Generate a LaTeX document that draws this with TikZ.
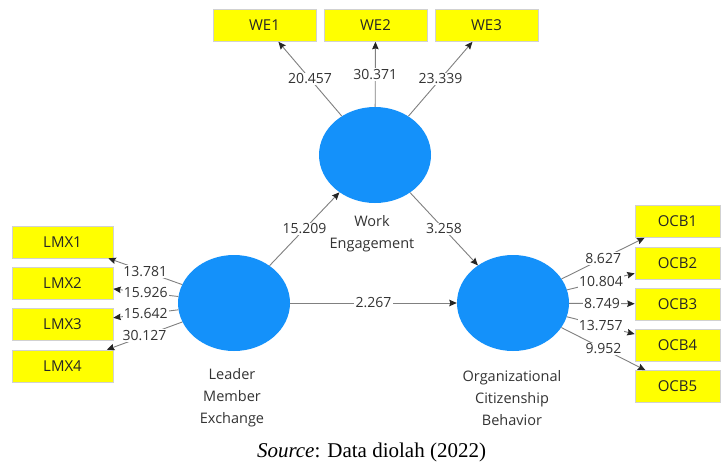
\documentclass[tikz,border=0pt]{standalone}
\usepackage{fontspec}
\setmainfont{Open Sans}
\newfontfamily\capfont{Liberation Serif}
\usetikzlibrary{shapes.geometric,arrows.meta}
\definecolor{lvblue}{RGB}{20,145,250}
\definecolor{mvyellow}{RGB}{255,255,0}
\definecolor{linkgray}{RGB}{128,128,128}
\tikzset{
  latent/.style={ellipse,fill=lvblue,draw=none,minimum width=112pt,minimum height=96pt,inner sep=0pt},
  indicator/.style={rectangle,fill=mvyellow,draw=black!18,line width=0.6pt,minimum height=32pt,inner sep=0pt,text=black!85,font=\fontsize{15}{17}\selectfont},
  webox/.style={indicator,minimum width=103pt},
  lmxbox/.style={indicator,minimum width=101pt},
  ocbbox/.style={indicator,minimum width=85pt},
  link/.style={draw=linkgray,line width=0.9pt,-{Stealth[length=7.5pt,width=6.5pt,inset=1pt,color=black!85,fill=black!85]}},
  coef/.style={fill=white,inner sep=1.2pt,text=black!80,font=\fontsize{14}{16}\selectfont},
  lvname/.style={align=center,text=black!80,font=\fontsize{14.5}{22}\selectfont},
}
\begin{document}
\begin{tikzpicture}[x=1pt,y=-1pt]
  \useasboundingbox (0,0) rectangle (726,463);
  \fill[white] (0,0) rectangle (726,463);

  % latent variables
  \node[latent] (we)  at (375,155) {};
  \node[latent] (lmx) at (234,303) {};
  \node[latent] (ocb) at (513,303) {};

  % indicators
  \node[webox] (we1) at (264.5,25.5) {WE1};
  \node[webox] (we2) at (375.5,25.5) {WE2};
  \node[webox] (we3) at (486.5,25.5) {WE3};

  \node[lmxbox] (lmx1) at (62.5,242) {LMX1};
  \node[lmxbox] (lmx2) at (62.5,283) {LMX2};
  \node[lmxbox] (lmx3) at (62.5,324) {LMX3};
  \node[lmxbox] (lmx4) at (62.5,366) {LMX4};

  \node[ocbbox] (ocb1) at (677.5,221.5) {OCB1};
  \node[ocbbox] (ocb2) at (677.5,263) {OCB2};
  \node[ocbbox] (ocb3) at (677.5,304) {OCB3};
  \node[ocbbox] (ocb4) at (677.5,345) {OCB4};
  \node[ocbbox] (ocb5) at (677.5,386.5) {OCB5};

  % latent variable names
  \node[lvname] (wename)  at (372,234) {Work\\Engagement};
  \node[lvname] (lmxname) at (232,398) {Leader\\Member\\Exchange};
  \node[lvname] (ocbname) at (512,398) {Organizational\\Citizenship\\Behavior};

  % outer model
  \draw[link] (we) -- node[coef] {20.457} (we1);
  \draw[link] (we) -- node[coef] {30.371} (we2);
  \draw[link] (we) -- node[coef] {23.339} (we3);

  \draw[link] (lmx) -- node[coef] {13.781} (lmx1);
  \draw[link] (lmx) -- node[coef] {15.926} (lmx2);
  \draw[link] (lmx) -- node[coef] {15.642} (lmx3);
  \draw[link] (lmx) -- node[coef] {30.127} (lmx4);

  \draw[link] (ocb) -- node[coef] {8.627} (ocb1);
  \draw[link] (ocb) -- node[coef] {10.804} (ocb2);
  \draw[link] (ocb) -- node[coef] {8.749} (ocb3);
  \draw[link] (ocb) -- node[coef] {13.757} (ocb4);
  \draw[link] (ocb) -- node[coef] {9.952} (ocb5);

  % inner model
  \draw[link] (lmx) -- node[coef] {15.209} (we);
  \draw[link] (we)  -- node[coef] {3.258} (ocb);
  \draw[link] (lmx) -- node[coef] {2.267} (ocb);

  % caption
  \node[font=\capfont\fontsize{21}{24}\selectfont,anchor=base] (caption) at (371.5,457) {\textit{Source}: Data diolah (2022)};
\end{tikzpicture}
\end{document}
